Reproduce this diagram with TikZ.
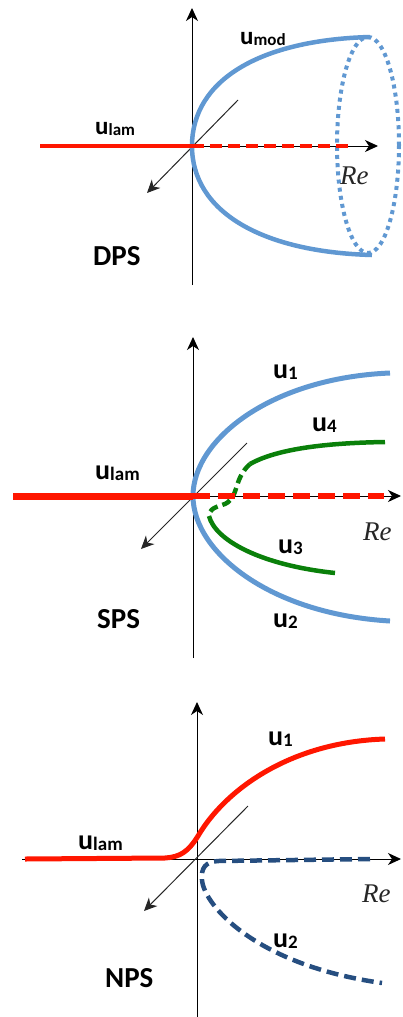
\documentclass[tikz,border=0pt]{standalone}
\usepackage{fontspec}
\setsansfont{Carlito}
\newfontfamily\refont{Liberation Serif}
\usetikzlibrary{arrows.meta}
\definecolor{cblue}{RGB}{96,152,210}
\definecolor{cred}{RGB}{255,22,0}
\definecolor{cgreen}{RGB}{10,128,10}
\definecolor{cdark}{RGB}{38,78,128}
\newcommand{\ulab}[3]{{\sffamily\bfseries\fontsize{#1}{#1}\selectfont u\raisebox{-1.5pt}{\fontsize{#2}{#2}\selectfont #3}}}
\begin{document}
\begin{tikzpicture}[x=1pt,y=-1pt,
  axis/.style={line width=1pt,black,-{Stealth[length=13pt,width=12pt,inset=4pt]}},
  diag/.style={line width=1pt,black!85,-{Stealth[length=13pt,width=12pt,inset=4pt]}},
  lab/.style={anchor=base west,inner sep=0pt},
  big/.style={lab,font=\sffamily\bfseries\fontsize{29}{29}\selectfont},
  retext/.style={lab,font=\refont\itshape\fontsize{27}{27}\selectfont,text=black!85}]
\useasboundingbox (0,0) rectangle (403,1017);
% ================= DPS =================
\coordinate (a1b) at (192,285);
\coordinate (a1t) at (192,8);
\coordinate (h1l) at (192,146);
\coordinate (h1r) at (378,146);
\coordinate (d1a) at (238,100);
\coordinate (d1b) at (147,193);
\coordinate (o1) at (192,146);
\coordinate (r1l) at (40,146);
\coordinate (r1r) at (353,146);
\coordinate (m1t) at (370,37);
\coordinate (m1b) at (372,255);
\draw[axis] (a1b) -- (a1t);
\draw[axis] (h1l) -- (h1r);
\draw[diag] (d1a) -- (d1b);
\draw[cblue,line width=4.5pt] (m1t) .. controls (260,40) and (192,80) .. (o1)
   .. controls (192,212) and (262,252) .. (m1b);
\draw[cblue,line width=4pt,dash pattern=on 4pt off 4.2pt] (368,145) ellipse [x radius=31, y radius=108];
\draw[cred,line width=4.5pt] (r1l) -- (o1);
\draw[cred,line width=4.5pt,dash pattern=on 12pt off 6pt] (o1) -- (r1r);
\node[lab] (umod) at (240,44) {\ulab{25}{17}{mod}};
\node[lab] (ulam1) at (95,134) {\ulab{25}{17}{lam}};
\node[big] (dps) at (93,265) {DPS};
\node[retext] (re1) at (340,184) {Re};
% ================= SPS =================
\coordinate (a2b) at (193,658);
\coordinate (a2t) at (193,337);
\coordinate (h2l) at (193,496);
\coordinate (h2r) at (401,496);
\coordinate (d2a) at (247,443);
\coordinate (d2b) at (141,549);
\coordinate (o2) at (193,496);
\coordinate (r2l) at (13,496);
\coordinate (r2r) at (384,496);
\coordinate (b2t) at (390,373);
\coordinate (b2b) at (390,621);
\coordinate (g4e) at (385,442);
\coordinate (g4m) at (250,464);
\coordinate (gv) at (209,516);
\coordinate (g3e) at (335,573);
\draw[axis] (a2b) -- (a2t);
\draw[axis] (h2l) -- (h2r);
\draw[diag] (d2a) -- (d2b);
\draw[cblue,line width=5pt] (b2t) .. controls (270,378) and (193,440) .. (o2)
   .. controls (193,552) and (270,614) .. (b2b);
\draw[cgreen,line width=4.5pt] (g4e) .. controls (320,443) and (275,450) .. (g4m);
\draw[cgreen,line width=4.5pt,dash pattern=on 9pt off 5pt] (g4m) .. controls (232,480) and (240,500) .. (222,505)
   .. controls (212,508) and (209,511) .. (gv);
\draw[cgreen,line width=4.5pt] (gv) .. controls (215,540) and (260,565) .. (g3e);
\draw[cred,line width=7pt] (r2l) -- (o2);
\draw[cred,line width=6pt,dash pattern=on 17pt off 8pt] (o2) -- (r2r);
\node[lab] (u1b) at (273,378) {\ulab{28}{19}{1}};
\node[lab] (u4b) at (312,431) {\ulab{28}{19}{4}};
\node[lab] (u3b) at (278,553) {\ulab{28}{19}{3}};
\node[lab] (u2b) at (273,627) {\ulab{28}{19}{2}};
\node[lab] (ulam2) at (95,479) {\ulab{28}{19}{lam}};
\node[big] (sps) at (97,628) {SPS};
\node[retext] (re2) at (363,540) {Re};
% ================= NPS =================
\coordinate (a3b) at (197,1017);
\coordinate (a3t) at (197,702);
\coordinate (h3l) at (22,859);
\coordinate (h3r) at (401,859);
\coordinate (d3a) at (248,806);
\coordinate (d3b) at (144,911);
\coordinate (r3l) at (25,859);
\coordinate (r3m) at (165,858);
\coordinate (r3k) at (198,836);
\coordinate (r3e) at (385,739);
\coordinate (n3s) at (370,859);
\coordinate (n3m) at (218,861);
\coordinate (n3k) at (202,880);
\coordinate (n3e) at (382,983);
\draw[axis] (a3b) -- (a3t);
\draw[axis] (h3l) -- (h3r);
\draw[diag] (d3a) -- (d3b);
\draw[cred,line width=5pt] (r3l) -- (r3m) .. controls (180,857) and (188,852) .. (r3k)
   .. controls (225,790) and (290,742) .. (r3e);
\draw[cdark,line width=4.5pt,dash pattern=on 12pt off 6pt] (n3s) -- (n3m) .. controls (205,862) and (201,868) .. (n3k)
   .. controls (204,905) and (255,965) .. (n3e);
\node[lab] (u1c) at (268,745) {\ulab{28}{19}{1}};
\node[lab] (ulam3) at (78,849) {\ulab{28}{19}{lam}};
\node[lab] (u2c) at (273,947) {\ulab{28}{19}{2}};
\node[big] (nps) at (105,987) {NPS};
\node[retext] (re3) at (362,902) {Re};
\end{tikzpicture}
\end{document}
